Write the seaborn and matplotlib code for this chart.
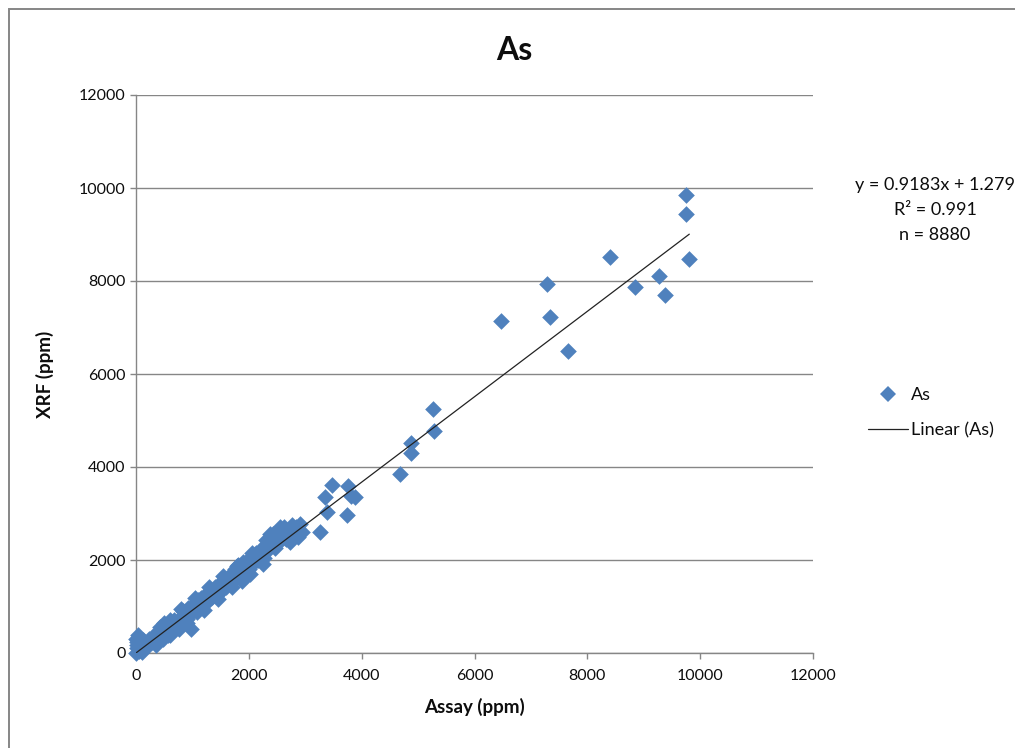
import matplotlib
matplotlib.use("Agg")
import matplotlib.pyplot as plt
from matplotlib.patches import Rectangle
from matplotlib.lines import Line2D
import seaborn as sns
import pandas as pd
import numpy as np

# ---------------- data ----------------
assay_ppm = [
    0, 15, 25, 40, 60, 70, 90, 110, 130, 10, 150, 180, 0, 30, 100,
    200, 230, 260, 300, 320, 350, 380, 400, 430, 460, 480, 510, 540, 560, 590, 620,
    650, 680, 700, 730, 760, 780, 810, 840, 850, 880, 900, 920, 950, 980, 1000, 1020,
    1050, 1080, 1100, 1130, 1160, 1180, 1200, 1230,
    1260, 1290, 1320, 1350, 1380, 1400, 1430, 1460, 1490, 1520, 1550, 1580, 1600, 1630,
    1660, 1690, 1720, 1750, 1780, 1800, 1830, 1860, 1880, 1890, 1920, 1950, 1980, 2000, 2030,
    2060, 2100, 2130, 2160, 2200, 2230, 2260, 2300, 2330, 2360, 2400, 2430, 2460, 2500,
    2530, 2560, 2600, 2630, 2660, 2700, 2730, 2760, 2800, 2830, 2870, 2900, 2940,
    420, 610, 720, 1150, 1420, 1700, 2150, 2380, 2550, 2680,
    500, 800, 1050, 1300, 1550, 1790, 2050, 600, 900, 1200, 1450, 1700, 1950, 2020, 2250,
    3261, 3380, 3350, 3468, 3734, 3760, 3810, 3880,
    4679, 4874, 4874, 5264, 5282,
    6475, 7291, 7338, 7662, 8401, 8850, 9264, 9370, 9748, 9748, 9807,
]
xrf_ppm = [
    0, 110, 240, 330, 50, 190, 120, 20, 280, 170, 90, 210, 300, 380, 260,
    140, 300, 220, 360, 230, 180, 400, 310, 470, 350, 300, 520, 420, 380, 600, 500,
    470, 700, 590, 560, 520, 760, 700, 900, 650, 790, 740, 960, 840, 520, 900, 1050,
    920, 880, 1130, 1000, 1100, 1050, 1230, 1080,
    1250, 1150, 1330, 1200, 1300, 1420, 1250, 1380, 1500, 1350, 1450, 1600, 1420, 1520,
    1680, 1500, 1620, 1800, 1640, 1900, 1700, 1800, 1540, 1960, 1760, 1870, 2000, 1800, 1920,
    2080, 1950, 2150, 1990, 2100, 2250, 2050, 2420, 2200, 2480, 2300, 2550, 2250, 2500,
    2620, 2400, 2550, 2700, 2450, 2620, 2390, 2750, 2560, 2700, 2500, 2780, 2600,
    560, 700, 640, 1180, 1380, 1700, 2000, 2550, 2720, 2500,
    650, 940, 1180, 1430, 1650, 1870, 2140, 380, 650, 920, 1170, 1420, 1650, 1700, 1920,
    2609, 3039, 3362, 3613, 2968, 3590, 3380, 3350,
    3849, 4301, 4516, 5243, 4774,
    7145, 7935, 7219, 6488, 8523, 7864, 8108, 7699, 9849, 9441, 8466,
]
series_name = "As"
trend_slope = 0.9183
trend_intercept = 1.279
r_squared = 0.991
n_samples = 8880
axis_ticks = [0, 2000, 4000, 6000, 8000, 10000, 12000]

# ---------------- style ----------------
sns.set_theme(style="white")
plt.rcParams['font.family'] = ['Lato', 'DejaVu Sans']

BLUE = "#4F81BD"
GRAY = "#868686"
TXT = "#0d0d0d"

W, H = 1015, 748
fig = plt.figure(figsize=(W / 100, H / 100), dpi=100)
ax = fig.add_axes([136 / W, 1 - 653 / H, (813 - 136) / W, (653 - 95) / H])

df = pd.DataFrame({"Assay": assay_ppm, "XRF": xrf_ppm})

sns.scatterplot(data=df, x="Assay", y="XRF", ax=ax, marker="D", s=72,
                color=BLUE, linewidth=0, clip_on=False, zorder=3, legend=False)

x_line = np.array([min(assay_ppm), max(assay_ppm)], dtype=float)
trend = pd.DataFrame({"x": x_line, "y": trend_slope * x_line + trend_intercept})
sns.lineplot(data=trend, x="x", y="y", ax=ax, color="#222222", linewidth=0.9,
             zorder=4, legend=False)

ax.set_xlim(0, 12000)
ax.set_ylim(0, 12000)
ax.set_xticks(axis_ticks)
ax.set_yticks(axis_ticks)
ax.set_xticklabels([str(t) for t in axis_ticks])
ax.set_yticklabels([str(t) for t in axis_ticks])

ax.yaxis.grid(True, color=GRAY, linewidth=1.0)
ax.xaxis.grid(False)
ax.set_axisbelow(True)

for s in ["top", "right"]:
    ax.spines[s].set_visible(False)
for s in ["left", "bottom"]:
    ax.spines[s].set_color(GRAY)
    ax.spines[s].set_linewidth(1.0)

ax.tick_params(axis="both", which="major", direction="out", length=4.5,
               width=1.0, color=GRAY, labelsize=11.5, labelcolor=TXT)
ax.tick_params(axis="x", pad=7)
ax.tick_params(axis="y", pad=3)
ax.tick_params(left=True, bottom=True)

ax.set_xlabel("Assay (ppm)", fontsize=13.5, fontweight="bold", labelpad=11, color=TXT)
ax.set_ylabel("XRF (ppm)", fontsize=13.5, fontweight="bold", labelpad=18, color=TXT)

fig.text(514 / W, 1 - 50 / H, series_name, ha="center", va="center",
         fontsize=23, fontweight="bold", color=TXT)

# trendline annotation
ann_x = 935 / W
fig.text(ann_x, 1 - 185 / H, f"y = {trend_slope}x + {trend_intercept}", ha="center",
         va="center", fontsize=13, color=TXT)
fig.text(ann_x, 1 - 210 / H, f"R² = {r_squared}", ha="center", va="center",
         fontsize=13, color=TXT)
fig.text(ann_x, 1 - 235 / H, f"n = {n_samples}", ha="center", va="center",
         fontsize=13, color=TXT)

# legend
handles = [
    Line2D([], [], marker="D", linestyle="none", markersize=8.5, markerfacecolor=BLUE,
           markeredgewidth=0),
    Line2D([], [], color="#222222", linewidth=0.9),
]
leg = fig.legend(handles, [series_name, f"Linear ({series_name})"], loc="upper left",
                 bbox_to_anchor=(868 / W, 1 - 387 / H), frameon=False, fontsize=13,
                 handlelength=2.2, handletextpad=0.2, labelspacing=1.05,
                 borderpad=0, borderaxespad=0)
for t in leg.get_texts():
    t.set_color(TXT)

# chart area border
fig.add_artist(Rectangle((9 / W, -0.05), 1.2, 1 - 9 / H + 0.05, transform=fig.transFigure,
                         fill=False, edgecolor=GRAY, linewidth=1.4))

fig.savefig("out.png", dpi=100)
